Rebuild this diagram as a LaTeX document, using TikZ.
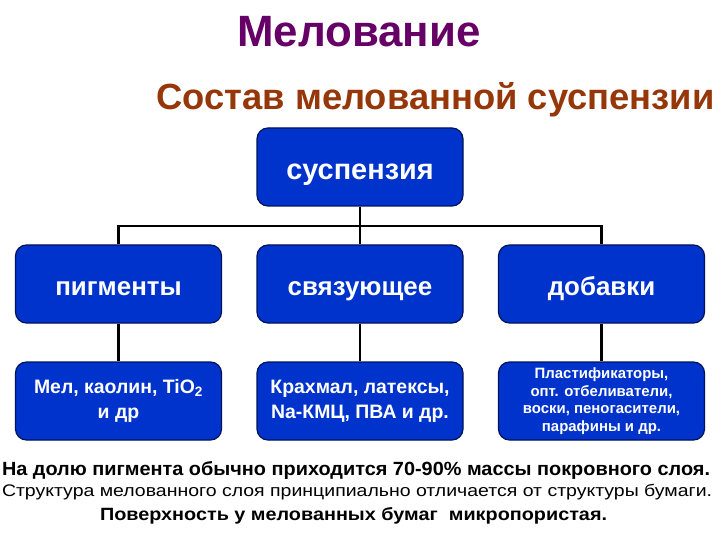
\documentclass[tikz,border=0pt]{standalone}
\usepackage{fontspec}
\setmainfont{Liberation Sans}
\usepackage{graphicx}
\definecolor{titlepurple}{RGB}{102,0,102}
\definecolor{subbrown}{RGB}{150,55,10}
\definecolor{boxblue}{RGB}{0,51,204}
\definecolor{boxline}{RGB}{0,20,90}
\begin{document}
\begin{tikzpicture}[x=1bp,y=-1bp,
  box/.style={draw=boxline, line width=1.2bp, fill=boxblue, rounded corners=11bp,
    minimum width=206bp, minimum height=78bp, text=white, align=center,
    inner sep=0pt},
  conn/.style={line width=2.5bp, black},
  plain/.style={inner sep=0pt, outer sep=0pt}]
\useasboundingbox (0,0) rectangle (720,540);
\fill[white] (0,0) rectangle (720,540);

\node[plain, anchor=base, text=titlepurple, font=\fontsize{44}{50}\selectfont\bfseries] (title) at (359,47) {Мелование};
\node[plain, anchor=base, text=subbrown, font=\fontsize{36.5}{42}\selectfont\bfseries] (sub) at (435.5,110) {Состав мелованной суспензии};

\node[box, text height=26bp, text depth=0bp, font=\fontsize{29}{34}\selectfont\bfseries] (top) at (360,167) {суспензия};

\node[box, text height=22bp, text depth=0bp, font=\fontsize{26}{30}\selectfont\bfseries] (a1) at (118.5,284) {пигменты};
\node[box, text height=22bp, text depth=0bp, font=\fontsize{26}{30}\selectfont\bfseries] (a2) at (360,284) {связующее};
\node[box, text height=22bp, text depth=0bp, font=\fontsize{26}{30}\selectfont\bfseries] (a3) at (601.5,284) {добавки};

\node[box, font=\fontsize{19.5}{25}\selectfont\bfseries] (b1) at (118.5,401) {Мел, каолин, TiO\textsubscript{2}\\и др};
\node[box, font=\fontsize{19.5}{25}\selectfont\bfseries] (b2) at (360,401) {Крахмал, латексы,\\Na-КМЦ, ПВА и др.};
\node[box, font=\fontsize{15}{17.7}\selectfont\bfseries] (b3) at (601.5,401) {Пластификаторы,\\опт. отбеливатели,\\воски, пеногасители,\\парафины и др.};

\coordinate (hb) at (360,226);
\draw[conn] (top.south) -- (a2.north);
\draw[conn] (a1.north) |- (hb) -| (a3.north);
\draw[conn] (a1.south) -- (b1.north);
\draw[conn] (a2.south) -- (b2.north);
\draw[conn] (a3.south) -- (b3.north);

\node[plain, anchor=base west] (l1) at (2,475) {\resizebox{708bp}{14bp}{\bfseries На долю пигмента обычно приходится 70-90\% массы покровного слоя.}};
\node[plain, anchor=base west] (l2) at (2,496.5) {\resizebox{710bp}{12.3bp}{Структура мелованного слоя принципиально отличается от структуры бумаги.}};
\node[plain, anchor=base west] (l3) at (100,520.5) {\resizebox{507bp}{13bp}{\bfseries Поверхность у мелованных бумаг~ микропористая.}};
\end{tikzpicture}
\end{document}
